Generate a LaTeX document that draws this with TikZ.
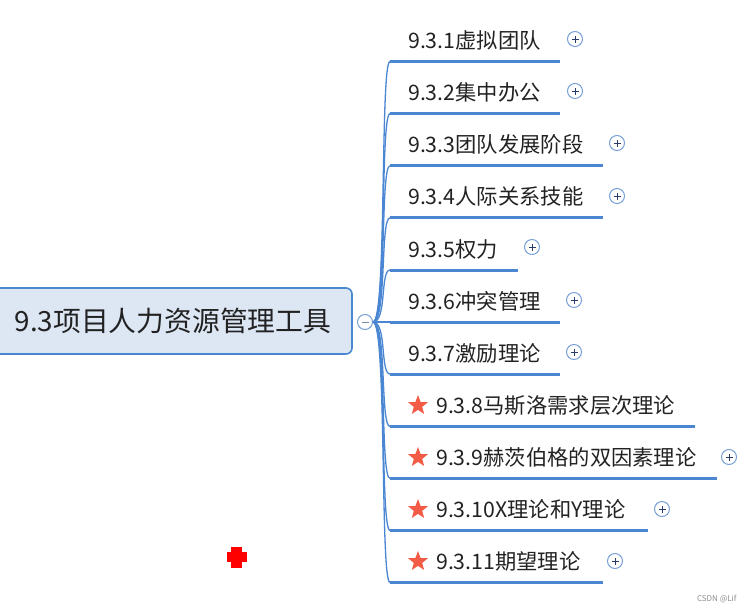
\documentclass[tikz,border=0pt]{standalone}
\usepackage{fontspec}
\setmainfont{Noto Sans CJK SC}
\usetikzlibrary{shapes.geometric}
\definecolor{mapblue}{RGB}{74,134,210}
\definecolor{rootfill}{RGB}{221,231,244}
\definecolor{starred}{RGB}{242,92,70}
\definecolor{inktext}{RGB}{34,34,34}
\definecolor{foldline}{RGB}{120,160,215}
\definecolor{foldink}{RGB}{40,60,110}

\begin{document}
\begin{tikzpicture}[x=1pt,y=-1pt,
    root/.style={draw=mapblue,line width=1.6pt,fill=rootfill,rounded corners=6pt,
      minimum width=358pt,minimum height=66pt,text=inktext,font=\fontsize{27.8}{32}\selectfont},
    topic/.style={anchor=west,text=inktext,font=\fontsize{21.3}{25}\selectfont,inner sep=0pt},
    uline/.style={draw=mapblue,line width=3pt},
    link/.style={draw=mapblue,line width=1.3pt},
    fold/.style={circle,draw=foldline,fill=white,line width=1pt,minimum size=15pt,inner sep=0pt},
    plusfold/.style={fold,path picture={
      \draw[foldink,line width=1pt] ([xshift=-3.5pt]path picture bounding box.center) -- ([xshift=3.5pt]path picture bounding box.center);
      \draw[foldink,line width=1pt] ([yshift=-3.5pt]path picture bounding box.center) -- ([yshift=3.5pt]path picture bounding box.center);}},
    minusfold/.style={fold,path picture={
      \draw[foldink!60,line width=1pt] ([xshift=-3.5pt]path picture bounding box.center) -- ([xshift=3.5pt]path picture bounding box.center);}},
    starmark/.style={star,star points=5,star point ratio=2.4,fill=starred,minimum size=21pt,inner sep=0pt},
    branch/.style={link}
  ]
    \clip (0,0) rectangle (748,611);
    \useasboundingbox (0,0) rectangle (748,611);

    % root topic
    \node[root] (root) at (173,321) {9.3项目人力资源管理工具};
    \node[minusfold] (rootfold) at (365,322) {};

    % start points of the underlines
    \coordinate (u1) at (390,61.5);
    \coordinate (u2) at (390,113.6);
    \coordinate (u3) at (390,165.7);
    \coordinate (u4) at (390,217.8);
    \coordinate (u5) at (390,270);
    \coordinate (u6) at (390,322);
    \coordinate (u7) at (390,374);
    \coordinate (u8) at (390,426.5);
    \coordinate (u9) at (390,478.5);
    \coordinate (u10) at (390,530.5);
    \coordinate (u11) at (390,582.5);

    % subtopics
    \node[topic] (t1) at ([xshift=18pt,yshift=21pt]u1) {9.3.1虚拟团队};
    \node[topic] (t2) at ([xshift=18pt,yshift=21pt]u2) {9.3.2集中办公};
    \node[topic] (t3) at ([xshift=18pt,yshift=21pt]u3) {9.3.3团队发展阶段};
    \node[topic] (t4) at ([xshift=18pt,yshift=21pt]u4) {9.3.4人际关系技能};
    \node[topic] (t5) at ([xshift=18pt,yshift=21pt]u5) {9.3.5权力};
    \node[topic] (t6) at ([xshift=18pt,yshift=21pt]u6) {9.3.6冲突管理};
    \node[topic] (t7) at ([xshift=18pt,yshift=21pt]u7) {9.3.7激励理论};
    \node[starmark] (s8) at ([xshift=28pt,yshift=21pt]u8) {};
    \node[topic] (t8) at ([xshift=46pt,yshift=21pt]u8) {9.3.8马斯洛需求层次理论};
    \node[starmark] (s9) at ([xshift=28pt,yshift=21pt]u9) {};
    \node[topic] (t9) at ([xshift=46pt,yshift=21pt]u9) {9.3.9赫茨伯格的双因素理论};
    \node[starmark] (s10) at ([xshift=28pt,yshift=21pt]u10) {};
    \node[topic] (t10) at ([xshift=46pt,yshift=21pt]u10) {9.3.10X理论和Y理论};
    \node[starmark] (s11) at ([xshift=28pt,yshift=21pt]u11) {};
    \node[topic] (t11) at ([xshift=46pt,yshift=21pt]u11) {9.3.11期望理论};

    % underlines
    \draw[uline] (u1) -- ++(170,0);
    \draw[uline] (u2) -- ++(170,0);
    \draw[uline] (u3) -- ++(213,0);
    \draw[uline] (u4) -- ++(213,0);
    \draw[uline] (u5) -- ++(128,0);
    \draw[uline] (u6) -- ++(170,0);
    \draw[uline] (u7) -- ++(170,0);
    \draw[uline] (u8) -- ++(305,0);
    \draw[uline] (u9) -- ++(327,0);
    \draw[uline] (u10) -- ++(258,0);
    \draw[uline] (u11) -- ++(213,0);

    % branches from the root
    \draw[branch] (rootfold.east) .. controls +(14,0) and +(-10,0) .. (u1);
    \draw[branch] (rootfold.east) .. controls +(14,0) and +(-10,0) .. (u2);
    \draw[branch] (rootfold.east) .. controls +(14,0) and +(-10,0) .. (u3);
    \draw[branch] (rootfold.east) .. controls +(14,0) and +(-10,0) .. (u4);
    \draw[branch] (rootfold.east) .. controls +(14,0) and +(-10,0) .. (u5);
    \draw[branch] (rootfold.east) -- (u6);
    \draw[branch] (rootfold.east) .. controls +(14,0) and +(-10,0) .. (u7);
    \draw[branch] (rootfold.east) .. controls +(14,0) and +(-10,0) .. (u8);
    \draw[branch] (rootfold.east) .. controls +(14,0) and +(-10,0) .. (u9);
    \draw[branch] (rootfold.east) .. controls +(14,0) and +(-10,0) .. (u10);
    \draw[branch] (rootfold.east) .. controls +(14,0) and +(-10,0) .. (u11);

    % fold buttons
    \node[plusfold] (p1) at (575,39) {};
    \node[plusfold] (p2) at (575,91) {};
    \node[plusfold] (p3) at (617,143) {};
    \node[plusfold] (p4) at (617,196) {};
    \node[plusfold] (p5) at (532,247) {};
    \node[plusfold] (p6) at (574,300) {};
    \node[plusfold] (p7) at (574,352) {};
    \node[plusfold] (p9) at (729,457) {};
    \node[plusfold] (p10) at (662,509) {};
    \node[plusfold] (p11) at (615,561) {};

    % red cross
    \fill[red] (231,547) rectangle (242,568);
    \fill[red] (227,552) rectangle (247,562);

    \node[text=black!45,font=\fontsize{8}{9}\selectfont,anchor=east] (wm) at (740,599) {CSDN @Lif};
  \end{tikzpicture}
\end{document}
